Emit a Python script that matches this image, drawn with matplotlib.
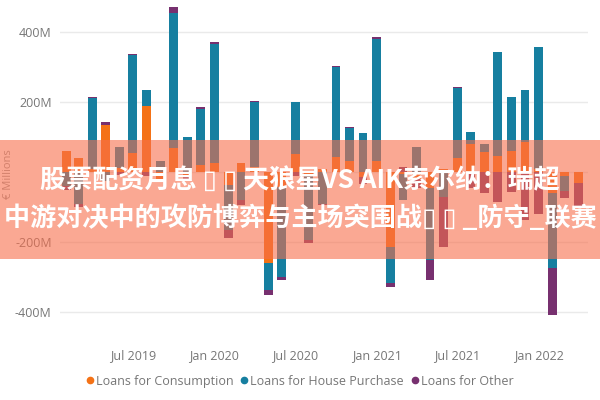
import pandas as pd
import matplotlib
matplotlib.use('Agg')
import matplotlib.pyplot as plt
import matplotlib.dates as mdates
from matplotlib.lines import Line2D
from matplotlib.patches import Rectangle
from matplotlib.ticker import FuncFormatter

# monthly changes, EUR millions (Feb 2019 .. Apr 2022)
months = pd.date_range('2019-02-01', '2022-04-01', freq='MS')
consumption = [60, 40, 8, 135, 12, 55, 189, -20, 69, -8, 20, 25,
               -37, 25, 15, -260, -43, 50, -5, 10, 43, 30, -15, 30,
               -214, -5, -20, -45, 8, 40, 80, 57, 45, 60, 85, 10,
               -60, -10, -30]
house = [-40, -90, 202, -25, 58, 278, 46, 30, 386, 100, 160, 340,
         -129, -80, 185, -77, -257, 150, -190, -90, 257, 96, 111, 350,
         -103, -75, 70, -206, -72, 200, 34, 22, 298, 154, 149, 347,
         -215, -45, 0]
other = [-12, -10, 4, 8, -8, 5, -12, -8, 17, -14, 6, 6,
         -23, -15, 3, -14, -9, -12, -8, -5, 3, 3, -20, 4,
         -11, 14, -25, -57, -143, 3, -46, -60, -85, -57, -137, -120,
         -134, -20, -70]

series = [('Loans for Consumption', consumption, '#F47216'),
          ('Loans for House Purchase', house, '#167FA0'),
          ('Loans for Other', other, '#77306F')]

title_1 = '股票配资月息 \u25af \u25af 天狼星VS AIK索尔纳：瑞超'
title_2 = '中游对决中的攻防博弈与主场突围战\u25af \u25af _防守_联赛'

text_grey = '#767676'

fig = plt.figure(figsize=(6, 4), dpi=100, facecolor='white')
ax = fig.add_axes([0.1, 0.175, 0.88, 0.825])

pos_base = [0.0] * len(months)
neg_base = [0.0] * len(months)
for name, vals, col in series:
    bottoms = [p if v >= 0 else n for v, p, n in zip(vals, pos_base, neg_base)]
    ax.bar(months, vals, width=20, bottom=bottoms, color=col, zorder=3)
    pos_base = [p + max(v, 0) for v, p in zip(vals, pos_base)]
    neg_base = [n + min(v, 0) for v, n in zip(vals, neg_base)]

ax.set_ylim(-451, 491)
ax.set_xlim(pd.Timestamp('2019-01-18'), pd.Timestamp('2022-04-22'))
# the 0M label sits hidden under the banner in the original
ax.set_yticks([-400, -200, 200, 400])
ax.axhline(0, color='#EAEAEA', linewidth=1, zorder=0)
ax.yaxis.set_major_formatter(FuncFormatter(lambda v, p: f'{int(v)}M'))
ax.xaxis.set_major_locator(mdates.MonthLocator(bymonth=[1, 7]))
ax.xaxis.set_major_formatter(mdates.DateFormatter('%b %Y'))
ax.grid(axis='y', color='#EAEAEA', linewidth=1, zorder=0)
for s in ax.spines.values():
    s.set_visible(False)
ax.tick_params(length=0, labelsize=9, labelcolor=text_grey)
ax.tick_params(axis='x', pad=14)
ax.tick_params(axis='y', pad=6)
for lab in ax.get_xticklabels() + ax.get_yticklabels():
    lab.set_family('Open Sans')

fig.text(0.014, 0.565, '€ Millions', rotation=90, ha='center', va='center',
         fontsize=8, color='#9A9A9A', family='Open Sans')

handles = [Line2D([], [], marker='o', linestyle='', markersize=4.5, color=c)
           for _, _, c in series]
fig.legend(handles, [n for n, _, _ in series], loc='center', ncol=3,
           bbox_to_anchor=(0.5, 0.047), frameon=False,
           handlelength=0.5, handletextpad=0.25, columnspacing=0.6,
           prop={'family': 'Open Sans', 'size': 9},
           labelcolor=text_grey)

# translucent salmon banner with the headline on top
fig.patches.append(Rectangle((0, 0.3525), 1, 0.2975, transform=fig.transFigure,
                             facecolor='#F76E4B', alpha=0.6, edgecolor='none',
                             zorder=10))
fig.text(0.5, 0.55, title_1, ha='center', va='center', fontsize=18.8,
         fontweight='bold', color='white', zorder=11,
         family=['Noto Sans CJK SC', 'DejaVu Sans'])
fig.text(0.5, 0.4525, title_2, ha='center', va='center', fontsize=18.8,
         fontweight='bold', color='white', zorder=11,
         family=['Noto Sans CJK SC', 'DejaVu Sans'])

fig.savefig('out.png', dpi=100, facecolor='white')
